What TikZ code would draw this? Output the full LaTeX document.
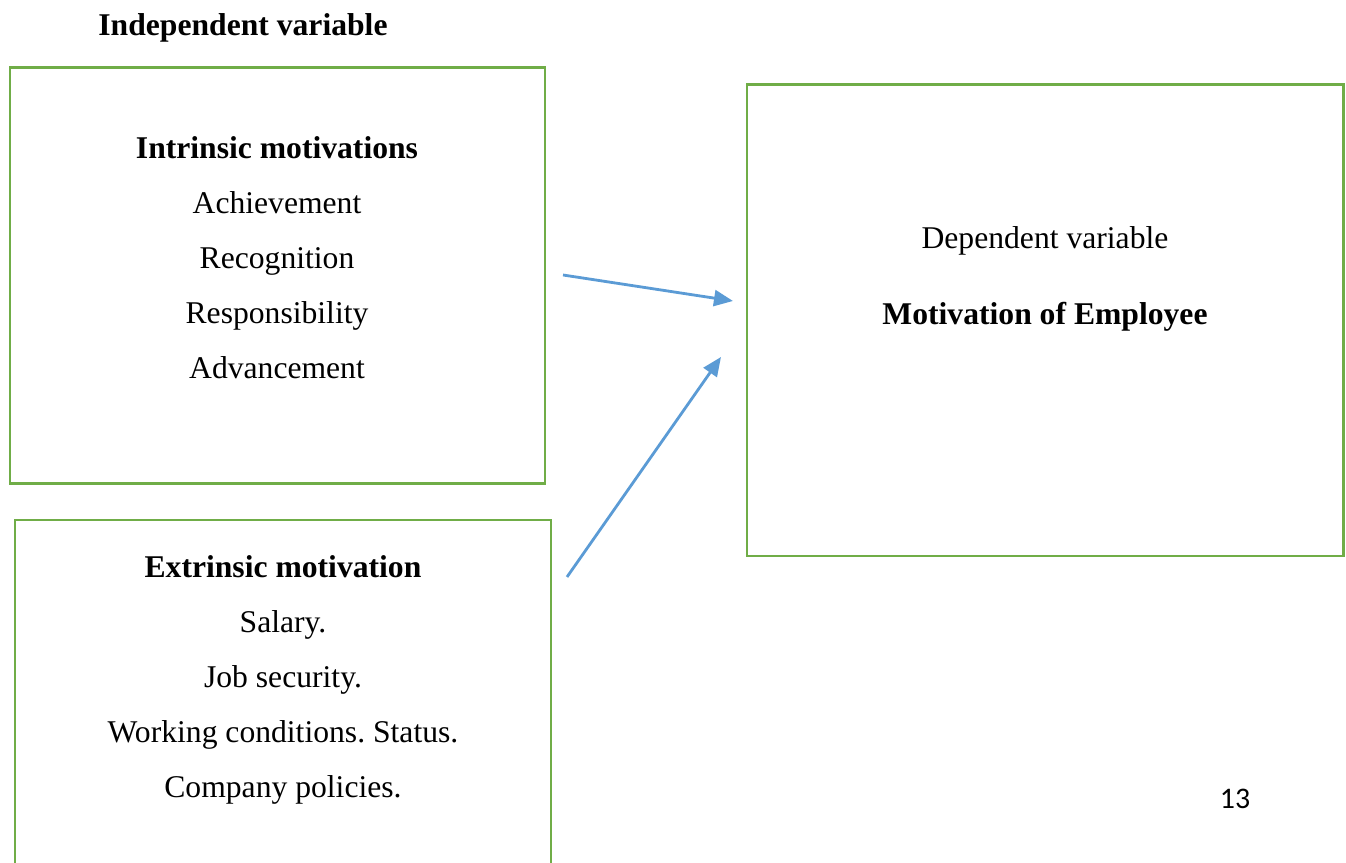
\documentclass[tikz,border=0pt]{standalone}
\usepackage{fontspec}
\setmainfont{Liberation Serif}
\newfontfamily\pagefont{Carlito}
\usetikzlibrary{arrows.meta,positioning}
\frenchspacing
\definecolor{boxgreen}{HTML}{70AD47}
\definecolor{arrowblue}{HTML}{5B9BD5}
\tikzset{
  varbox/.style={draw=boxgreen,line width=1.7pt,rectangle,inner sep=0pt},
  txt/.style={font=\fontsize{18}{22}\selectfont,text height=1.6ex,text depth=.3ex,inner sep=0pt},
  link/.style={arrowblue,line width=1.6pt,-{Triangle[length=0.38cm,width=0.32cm]}}
}
\begin{document}
\begin{tikzpicture}
\clip (0,0) rectangle (26.92,17.26);
% boxes
\node[varbox,minimum width=10.7cm,minimum height=8.32cm] (intr) at (5.55,11.74) {};
\node[varbox,minimum width=10.72cm,minimum height=7.86cm] (extr) at (5.66,2.93) {};
\node[varbox,minimum width=11.92cm,minimum height=9.42cm] (dep) at (20.9,10.85) {};
% texts
\node[txt,font=\fontsize{18}{22}\selectfont\bfseries] (indep) at (4.86,16.66) {Independent variable};
\node[txt,font=\fontsize{18}{22}\selectfont\bfseries] (intrhead) at (5.54,14.2) {Intrinsic motivations};
\foreach \t [count=\i] in {Achievement,Recognition,Responsibility,Advancement}
  \node[txt] (intr\i) at (5.54,{14.2-1.1*\i}) {\t};
\node[txt,font=\fontsize{18}{22}\selectfont\bfseries] (extrhead) at (5.66,5.82) {Extrinsic motivation};
\foreach \t [count=\i] in {Salary.,Job security.,Working conditions. Status.,Company policies.}
  \node[txt] (extr\i) at (5.66,{5.82-1.1*\i}) {\t};
\node[txt] (deplabel) at (20.9,12.4) {Dependent variable};
\node[txt,font=\fontsize{18}{22}\selectfont\bfseries] (dephead) at (20.9,10.88) {Motivation of Employee};
\node[font=\pagefont\fontsize{17}{20}\selectfont,inner sep=0pt] (pagenum) at (24.7,1.28) {13};
% arrows
\coordinate (from1) at (11.26,11.76);
\coordinate (to1) at (14.66,11.24);
\coordinate (from2) at (11.34,5.72);
\coordinate (to2) at (14.42,10.12);
\draw[link] (from1) -- (to1);
\draw[link] (from2) -- (to2);
\end{tikzpicture}
\end{document}
